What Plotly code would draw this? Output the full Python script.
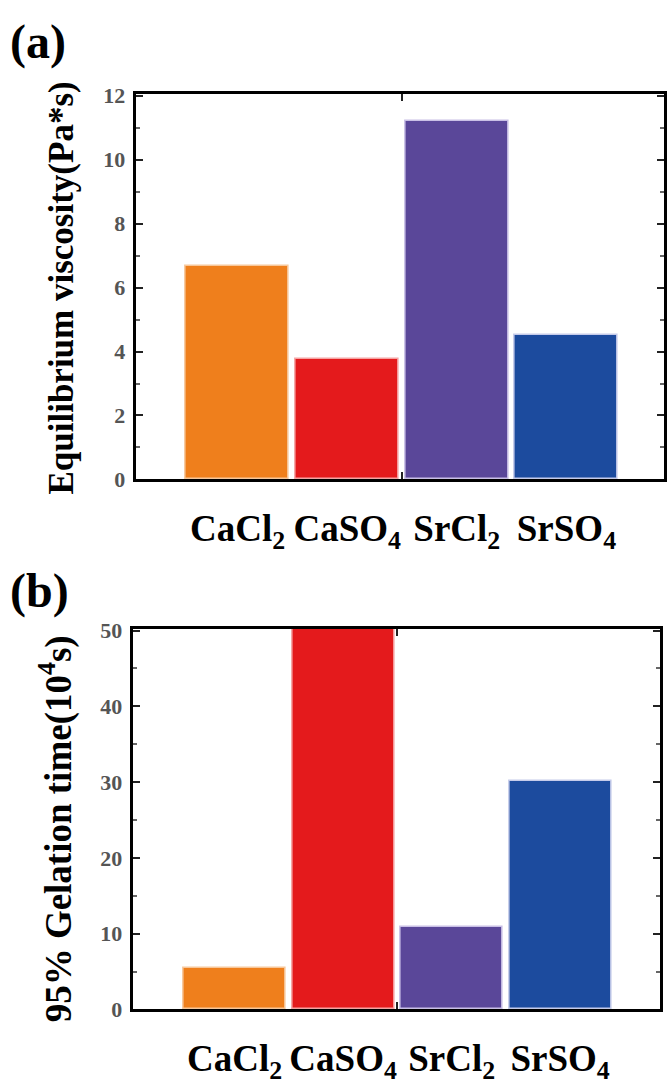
import plotly.graph_objects as go

categories = ["CaCl<sub>2</sub>", "CaSO<sub>4</sub>", "SrCl<sub>2</sub>", "SrSO<sub>4</sub>"]
viscosity = [6.68, 3.76, 11.22, 4.52]
gelation_time = [5.5, 50.5, 10.9, 30.2]
colors = ["#EF7F1C", "#E41A1C", "#5A4799", "#1C4B9E"]
edge_colors = ["#F7C79A", "#F5A3A3", "#C9C0E6", "#C5CBEA"]
positions = [0, 1, 2, 3]

FONT = "Times New Roman, Liberation Serif, Times, serif"
W, H = 667, 1087

fig = go.Figure()
fig.add_trace(go.Bar(x=positions, y=viscosity, width=0.94,
                     marker=dict(color=colors, line=dict(color=edge_colors, width=1.5)),
                     xaxis="x", yaxis="y", showlegend=False))
fig.add_trace(go.Bar(x=positions, y=gelation_time, width=0.94,
                     marker=dict(color=colors, line=dict(color=edge_colors, width=1.5)),
                     xaxis="x2", yaxis="y2", showlegend=False))

xa_dom = [136 / W, 666 / W]
ya_dom = [1 - 479 / H, 1 - 85 / H]
xb_dom = [133 / W, 662 / W]
yb_dom = [1 - 1021 / H, 1 - 632 / H]

def xaxis(dom, anchor, rng):
    return dict(domain=dom, anchor=anchor, range=rng, tickvals=positions, ticktext=categories,
                ticks="", showgrid=False, zeroline=False, showline=True, linecolor="black",
                linewidth=3, mirror=True, ticklabelstandoff=14,
                tickfont=dict(family=FONT, size=37, color="black", weight="bold"))

def yaxis(dom, anchor, rng, dtick):
    return dict(domain=dom, anchor=anchor, range=rng, dtick=dtick, ticks="inside", ticklen=7,
                tickwidth=2, tickcolor="#222", showgrid=False, zeroline=False, showline=True,
                linecolor="black", linewidth=3, mirror="ticks", ticklabelstandoff=3,
                minor=dict(ticks="inside", ticklen=4, tickwidth=2, tickcolor="#666", dtick=dtick / 2),
                tickfont=dict(family=FONT, size=22, color="#555", weight="bold"))

def midaxis(dom, anchor, overlay, rng):
    return dict(domain=dom, anchor=anchor, overlaying=overlay, range=rng, tickvals=[1.5],
                ticks="inside", ticklen=7, tickwidth=2, tickcolor="#222", showticklabels=False,
                showgrid=False, zeroline=False, showline=False, mirror="ticks")

rng_a = [-0.93, 3.89]
rng_b = [-0.94, 3.92]

fig.update_layout(
    width=W, height=H, margin=dict(l=0, r=0, t=0, b=0),
    paper_bgcolor="white", plot_bgcolor="white", bargap=0,
    xaxis=xaxis(xa_dom, "y", rng_a),
    yaxis=yaxis(ya_dom, "x", [0, 12.05], 2),
    xaxis2=xaxis(xb_dom, "y2", rng_b),
    yaxis2=yaxis(yb_dom, "x2", [0, 50.2], 10),
    xaxis3=midaxis(xa_dom, "y", "x", rng_a),
    xaxis4=midaxis(xb_dom, "y2", "x2", rng_b),
    annotations=[
        dict(text="<b>(a)</b>", x=8 / W, y=1 - 2 / H, xref="paper", yref="paper",
             xanchor="left", yanchor="top", showarrow=False,
             font=dict(family=FONT, size=48, color="black")),
        dict(text="<b>(b)</b>", x=8 / W, y=1 - 563 / H, xref="paper", yref="paper",
             xanchor="left", yanchor="top", showarrow=False,
             font=dict(family=FONT, size=48, color="black")),
        dict(text="<b>Equilibrium viscosity(Pa*s)</b>", x=62 / W, y=1 - 283 / H,
             xref="paper", yref="paper", textangle=-90, showarrow=False,
             xanchor="center", yanchor="middle",
             font=dict(family=FONT, size=35, color="black")),
        dict(text="<b>95% Gelation time(10<sup>4</sup>s)</b>", x=56 / W, y=1 - 836 / H,
             xref="paper", yref="paper", textangle=-90, showarrow=False,
             xanchor="center", yanchor="middle",
             font=dict(family=FONT, size=37, color="black")),
    ],
)
fig.add_trace(go.Scatter(x=[], y=[], xaxis="x3", yaxis="y", showlegend=False))
fig.add_trace(go.Scatter(x=[], y=[], xaxis="x4", yaxis="y2", showlegend=False))

fig.write_html("out.html")
